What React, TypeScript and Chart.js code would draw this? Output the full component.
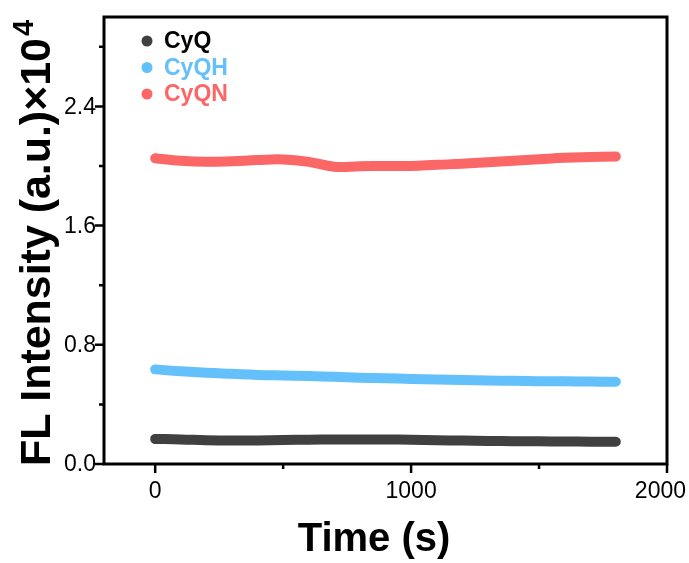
import React, { useEffect, useRef } from "react";
import { Chart, registerables } from "chart.js";

Chart.register(...registerables);

const times = [0, 100, 200, 300, 400, 500, 600, 700, 800, 900, 1000, 1100, 1200, 1300, 1400, 1500, 1600, 1700, 1800];
const cyQ = [0.168, 0.165, 0.159, 0.157, 0.158, 0.161, 0.163, 0.164, 0.164, 0.164, 0.163, 0.16, 0.157, 0.155, 0.153, 0.152, 0.151, 0.15, 0.149];
const cyQH = [0.635, 0.622, 0.612, 0.605, 0.598, 0.594, 0.59, 0.585, 0.579, 0.575, 0.571, 0.567, 0.563, 0.56, 0.558, 0.556, 0.555, 0.553, 0.552];
const cyQN = [2.052, 2.035, 2.028, 2.032, 2.04, 2.044, 2.028, 1.995, 1.998, 2.0, 2.0, 2.008, 2.015, 2.025, 2.035, 2.045, 2.055, 2.06, 2.064];

const seriesNames = ["CyQ", "CyQH", "CyQN"];
const seriesColors = ["#404040", "#63c0fb", "#fb6767"];
const legendTextColors = ["#000000", "#63c0fb", "#fb6767"];

const xMajorTicks = [0, 1000, 2000];
const xMinorTicks = [500, 1500];
const yMajorTicks = [0, 0.8, 1.6, 2.4];
const yMinorTicks = [0.4, 1.2, 2.0, 2.8];

const xTitle = "Time (s)";
const yTitle = "FL Intensity (a.u.)×10";
const yTitleSup = "4";

const FONT = "'Liberation Sans', Arial, sans-serif";

const decorPlugin = {
  id: "decor",
  afterDraw(chart: any) {
    const { ctx, chartArea } = chart;
    const xs = chart.scales.x;
    const ys = chart.scales.y;
    ctx.save();
    // frame
    ctx.strokeStyle = "#000";
    ctx.lineWidth = 3;
    ctx.strokeRect(chartArea.left, chartArea.top, chartArea.right - chartArea.left, chartArea.bottom - chartArea.top);
    // ticks
    ctx.lineWidth = 2.5;
    ctx.beginPath();
    xMajorTicks.forEach((v) => {
      const px = xs.getPixelForValue(v);
      ctx.moveTo(px, chartArea.bottom);
      ctx.lineTo(px, chartArea.bottom + 9);
    });
    xMinorTicks.forEach((v) => {
      const px = xs.getPixelForValue(v);
      ctx.moveTo(px, chartArea.bottom);
      ctx.lineTo(px, chartArea.bottom + 5);
    });
    yMajorTicks.forEach((v) => {
      const py = ys.getPixelForValue(v);
      ctx.moveTo(chartArea.left, py);
      ctx.lineTo(chartArea.left - 9, py);
    });
    yMinorTicks.forEach((v) => {
      const py = ys.getPixelForValue(v);
      ctx.moveTo(chartArea.left, py);
      ctx.lineTo(chartArea.left - 5, py);
    });
    ctx.stroke();

    // tick labels
    ctx.fillStyle = "#000";
    ctx.font = "23px " + FONT;
    ctx.textBaseline = "middle";
    ctx.textAlign = "right";
    yMajorTicks.forEach((v) => {
      ctx.fillText(v.toFixed(1), chartArea.left - 8, ys.getPixelForValue(v) + 1);
    });
    xMajorTicks.forEach((v) => {
      const label = String(v);
      const w = ctx.measureText(label).width;
      let cx = xs.getPixelForValue(v);
      if (cx + w / 2 > chart.width - 3) cx = chart.width - 3 - w / 2;
      ctx.textAlign = "center";
      ctx.fillText(label, cx, chartArea.bottom + 28);
    });

    // legend
    chart.data.datasets.forEach((ds: any, i: number) => {
      const y = 41 + i * 26.5;
      ctx.fillStyle = seriesColors[i];
      ctx.beginPath();
      ctx.arc(147, y, 5.5, 0, Math.PI * 2);
      ctx.fill();
      ctx.fillStyle = legendTextColors[i];
      ctx.font = "bold 23px " + FONT;
      ctx.textAlign = "left";
      ctx.textBaseline = "middle";
      ctx.fillText(ds.label, 164, y + 1);
    });

    // x title
    ctx.fillStyle = "#000";
    ctx.font = "bold 40px " + FONT;
    ctx.textAlign = "center";
    ctx.textBaseline = "alphabetic";
    ctx.fillText(xTitle, 374, 551);

    // y title
    ctx.save();
    ctx.translate(50, 466);
    ctx.rotate(-Math.PI / 2);
    const mainFont = "bold 43px " + FONT;
    const supFont = "bold 29px " + FONT;
    ctx.font = mainFont;
    const wMain = ctx.measureText(yTitle).width;
    ctx.font = supFont;
    const wSup = ctx.measureText(yTitleSup).width;
    const target = 446;
    const sx = target / (wMain + wSup + 2);
    ctx.scale(sx, 1);
    ctx.textAlign = "left";
    ctx.font = mainFont;
    ctx.fillText(yTitle, 0, 0);
    ctx.font = supFont;
    ctx.fillText(yTitleSup, wMain + 2, -17);
    ctx.restore();

    ctx.restore();
  },
};

export default function App() {
  const ref = useRef<HTMLCanvasElement | null>(null);
  useEffect(() => {
    document.body.style.margin = "0";
    if (!ref.current) return;
    const dataSeries = [cyQ, cyQH, cyQN];
    const chart = new Chart(ref.current, {
      type: "line",
      data: {
        datasets: dataSeries.map((vals, i) => ({
          label: seriesNames[i],
          data: times.map((t, j) => ({ x: t, y: vals[j] })),
          borderColor: seriesColors[i],
          backgroundColor: seriesColors[i],
          borderWidth: 10,
          borderCapStyle: "round",
          borderJoinStyle: "round",
          pointRadius: 0,
          tension: 0.4,
        })),
      },
      options: {
        responsive: false,
        animation: false,
        layout: { padding: { top: 17, right: 22, left: 0, bottom: 0 } },
        plugins: { legend: { display: false }, tooltip: { enabled: false } },
        scales: {
          x: {
            type: "linear",
            min: -200,
            max: 2000,
            grid: { display: false },
            border: { display: false },
            ticks: { display: false },
            afterFit: (s: any) => {
              s.height = 99;
            },
          },
          y: {
            type: "linear",
            min: 0,
            max: 3.0,
            grid: { display: false },
            border: { display: false },
            ticks: { display: false },
            afterFit: (s: any) => {
              s.width = 104;
            },
          },
        },
      },
      plugins: [decorPlugin],
    } as any);
    return () => chart.destroy();
  }, []);
  return (
    <div style={{ width: 689, height: 563 }}>
      <canvas ref={ref} width={689} height={563} />
    </div>
  );
}
